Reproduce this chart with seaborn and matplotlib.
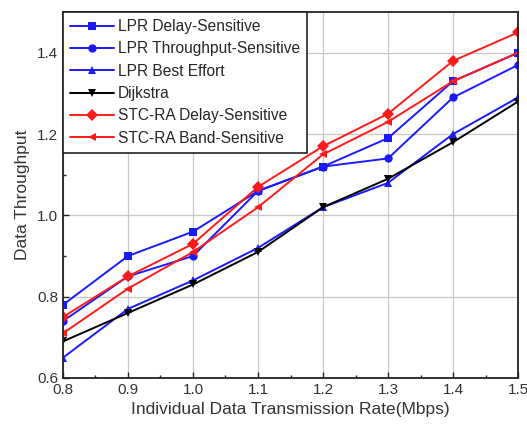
import matplotlib
matplotlib.use('Agg')
import matplotlib.pyplot as plt
import pandas as pd
import seaborn as sns
from matplotlib.ticker import MultipleLocator

rates = [0.8, 0.9, 1.0, 1.1, 1.2, 1.3, 1.4, 1.5]
lpr_delay = [0.78, 0.90, 0.96, 1.06, 1.12, 1.19, 1.33, 1.40]
lpr_throughput = [0.74, 0.85, 0.90, 1.06, 1.12, 1.14, 1.29, 1.37]
lpr_best_effort = [0.65, 0.77, 0.84, 0.92, 1.02, 1.08, 1.20, 1.29]
dijkstra = [0.69, 0.76, 0.83, 0.91, 1.02, 1.09, 1.18, 1.28]
stc_delay = [0.75, 0.85, 0.93, 1.07, 1.17, 1.25, 1.38, 1.45]
stc_band = [0.71, 0.82, 0.91, 1.02, 1.15, 1.23, 1.33, 1.40]

series_names = [
    'LPR Delay-Sensitive',
    'LPR Throughput-Sensitive',
    'LPR Best Effort',
    'Dijkstra',
    'STC-RA Delay-Sensitive',
    'STC-RA Band-Sensitive',
]
series_values = [lpr_delay, lpr_throughput, lpr_best_effort, dijkstra, stc_delay, stc_band]
colors = ['#1a1aff', '#1a1aff', '#1a1aff', '#000000', '#ff1a1a', '#ff1a1a']
markers = ['s', 'o', '^', 'v', 'D', '<']

sns.set_theme(style='white')
plt.rcParams['font.family'] = ['Liberation Sans', 'DejaVu Sans']

frames = [pd.DataFrame({'rate': rates, 'throughput': vals, 'series': name})
          for name, vals in zip(series_names, series_values)]
data = pd.concat(frames, ignore_index=True)

fig = plt.figure(figsize=(5.27, 4.24), dpi=100)
ax = fig.add_axes([0.1195, 0.1085, 0.8635, 0.863])

sns.lineplot(
    data=data, x='rate', y='throughput',
    hue='series', style='series',
    hue_order=series_names, style_order=series_names,
    palette=dict(zip(series_names, colors)),
    markers=dict(zip(series_names, markers)),
    dashes=False, markersize=6, markeredgewidth=0, linewidth=1.4,
    ax=ax,
)

ax.set_xlim(0.8, 1.5)
ax.set_ylim(0.6, 1.5)
ax.xaxis.set_major_locator(MultipleLocator(0.1))
ax.xaxis.set_minor_locator(MultipleLocator(0.05))
ax.yaxis.set_major_locator(MultipleLocator(0.2))
ax.yaxis.set_minor_locator(MultipleLocator(0.1))
ax.xaxis.set_major_formatter(plt.FuncFormatter(lambda v, p: f'{v:.1f}'))
ax.yaxis.set_major_formatter(plt.FuncFormatter(lambda v, p: f'{v:.1f}'))
ax.tick_params(which='both', direction='in', bottom=True, left=True, colors='#222222', labelcolor='#333333')
ax.tick_params(which='major', length=4, width=1, labelsize=11)
ax.tick_params(which='minor', length=2.5, width=1)
ax.grid(True, which='major', color='#c8c8c8', linewidth=0.9)
for spine in ax.spines.values():
    spine.set_color('#222222')
    spine.set_linewidth(1.3)

ax.set_xlabel('Individual Data Transmission Rate(Mbps)', fontsize=12.5, color='#333333', labelpad=4)
ax.set_ylabel('Data Throughput', fontsize=12.5, color='#333333', labelpad=5)

leg = ax.legend(loc='upper left', fontsize=11.2, frameon=True, fancybox=False,
                borderaxespad=0, handlelength=2.8, labelspacing=0.47,
                borderpad=0.45, handletextpad=0.3)
leg.get_frame().set_edgecolor('#222222')
leg.get_frame().set_linewidth(1.2)
leg.get_frame().set_alpha(1)

fig.savefig('out.png', dpi=100)
